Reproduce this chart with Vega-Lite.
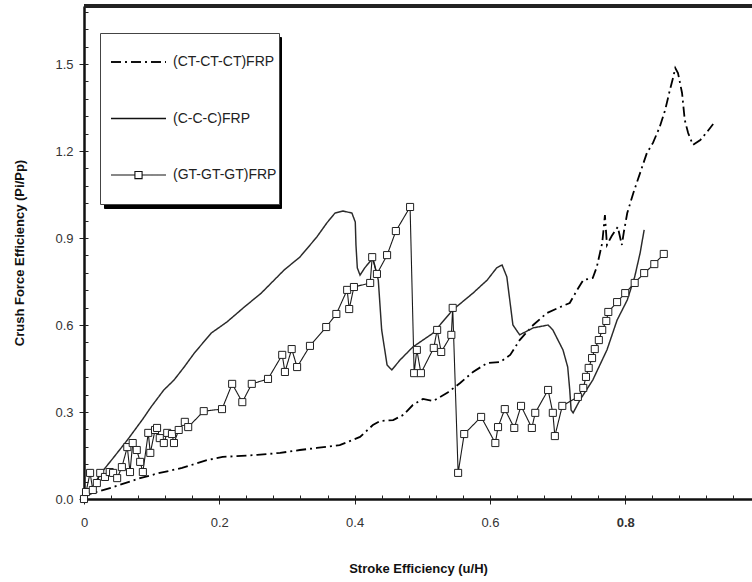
{
  "$schema": "https://vega.github.io/schema/vega-lite/v6.json",
  "autosize": {"type": "none"},
  "width": 668,
  "height": 493,
  "padding": {"left": 84, "top": 6, "right": 0, "bottom": 83},
  "background": "white",
  "config": {
    "view": {"stroke": null},
    "font": "Liberation Sans",
    "axis": {"grid": false, "labelFont": "Liberation Sans", "titleFont": "Liberation Sans", "labelColor": "#333", "titleColor": "#111", "tickColor": "#222", "tickWidth": 1, "domainColor": "#111", "domainWidth": 2.5}
  },
  "data": {
    "values": [
      {"series": "(CT-CT-CT)FRP", "u": 0, "p": 0},
      {"series": "(CT-CT-CT)FRP", "u": 0.004, "p": 0.014},
      {"series": "(CT-CT-CT)FRP", "u": 0.024, "p": 0.028},
      {"series": "(CT-CT-CT)FRP", "u": 0.043, "p": 0.041},
      {"series": "(CT-CT-CT)FRP", "u": 0.083, "p": 0.072},
      {"series": "(CT-CT-CT)FRP", "u": 0.112, "p": 0.09},
      {"series": "(CT-CT-CT)FRP", "u": 0.145, "p": 0.107},
      {"series": "(CT-CT-CT)FRP", "u": 0.182, "p": 0.134},
      {"series": "(CT-CT-CT)FRP", "u": 0.205, "p": 0.145},
      {"series": "(CT-CT-CT)FRP", "u": 0.256, "p": 0.152},
      {"series": "(CT-CT-CT)FRP", "u": 0.29, "p": 0.159},
      {"series": "(CT-CT-CT)FRP", "u": 0.319, "p": 0.169},
      {"series": "(CT-CT-CT)FRP", "u": 0.344, "p": 0.176},
      {"series": "(CT-CT-CT)FRP", "u": 0.378, "p": 0.186},
      {"series": "(CT-CT-CT)FRP", "u": 0.408, "p": 0.214},
      {"series": "(CT-CT-CT)FRP", "u": 0.427, "p": 0.255},
      {"series": "(CT-CT-CT)FRP", "u": 0.438, "p": 0.269},
      {"series": "(CT-CT-CT)FRP", "u": 0.457, "p": 0.272},
      {"series": "(CT-CT-CT)FRP", "u": 0.472, "p": 0.29},
      {"series": "(CT-CT-CT)FRP", "u": 0.486, "p": 0.324},
      {"series": "(CT-CT-CT)FRP", "u": 0.501, "p": 0.345},
      {"series": "(CT-CT-CT)FRP", "u": 0.516, "p": 0.338},
      {"series": "(CT-CT-CT)FRP", "u": 0.537, "p": 0.366},
      {"series": "(CT-CT-CT)FRP", "u": 0.556, "p": 0.4},
      {"series": "(CT-CT-CT)FRP", "u": 0.575, "p": 0.438},
      {"series": "(CT-CT-CT)FRP", "u": 0.596, "p": 0.469},
      {"series": "(CT-CT-CT)FRP", "u": 0.615, "p": 0.472},
      {"series": "(CT-CT-CT)FRP", "u": 0.63, "p": 0.497},
      {"series": "(CT-CT-CT)FRP", "u": 0.644, "p": 0.548},
      {"series": "(CT-CT-CT)FRP", "u": 0.664, "p": 0.6},
      {"series": "(CT-CT-CT)FRP", "u": 0.684, "p": 0.641},
      {"series": "(CT-CT-CT)FRP", "u": 0.704, "p": 0.662},
      {"series": "(CT-CT-CT)FRP", "u": 0.718, "p": 0.676},
      {"series": "(CT-CT-CT)FRP", "u": 0.729, "p": 0.721},
      {"series": "(CT-CT-CT)FRP", "u": 0.738, "p": 0.755},
      {"series": "(CT-CT-CT)FRP", "u": 0.752, "p": 0.762},
      {"series": "(CT-CT-CT)FRP", "u": 0.758, "p": 0.8},
      {"series": "(CT-CT-CT)FRP", "u": 0.766, "p": 0.883},
      {"series": "(CT-CT-CT)FRP", "u": 0.77, "p": 0.979},
      {"series": "(CT-CT-CT)FRP", "u": 0.773, "p": 0.876},
      {"series": "(CT-CT-CT)FRP", "u": 0.78, "p": 0.907},
      {"series": "(CT-CT-CT)FRP", "u": 0.789, "p": 0.938},
      {"series": "(CT-CT-CT)FRP", "u": 0.795, "p": 0.876},
      {"series": "(CT-CT-CT)FRP", "u": 0.798, "p": 0.921},
      {"series": "(CT-CT-CT)FRP", "u": 0.803, "p": 0.986},
      {"series": "(CT-CT-CT)FRP", "u": 0.812, "p": 1.055},
      {"series": "(CT-CT-CT)FRP", "u": 0.825, "p": 1.145},
      {"series": "(CT-CT-CT)FRP", "u": 0.832, "p": 1.193},
      {"series": "(CT-CT-CT)FRP", "u": 0.841, "p": 1.228},
      {"series": "(CT-CT-CT)FRP", "u": 0.851, "p": 1.283},
      {"series": "(CT-CT-CT)FRP", "u": 0.859, "p": 1.341},
      {"series": "(CT-CT-CT)FRP", "u": 0.866, "p": 1.41},
      {"series": "(CT-CT-CT)FRP", "u": 0.871, "p": 1.455},
      {"series": "(CT-CT-CT)FRP", "u": 0.874, "p": 1.486},
      {"series": "(CT-CT-CT)FRP", "u": 0.878, "p": 1.469},
      {"series": "(CT-CT-CT)FRP", "u": 0.884, "p": 1.4},
      {"series": "(CT-CT-CT)FRP", "u": 0.888, "p": 1.307},
      {"series": "(CT-CT-CT)FRP", "u": 0.893, "p": 1.262},
      {"series": "(CT-CT-CT)FRP", "u": 0.9, "p": 1.221},
      {"series": "(CT-CT-CT)FRP", "u": 0.911, "p": 1.238},
      {"series": "(CT-CT-CT)FRP", "u": 0.921, "p": 1.266},
      {"series": "(CT-CT-CT)FRP", "u": 0.93, "p": 1.293},

      {"series": "(C-C-C)FRP", "u": 0, "p": 0},
      {"series": "(C-C-C)FRP", "u": 0.012, "p": 0.038},
      {"series": "(C-C-C)FRP", "u": 0.024, "p": 0.086},
      {"series": "(C-C-C)FRP", "u": 0.043, "p": 0.141},
      {"series": "(C-C-C)FRP", "u": 0.064, "p": 0.203},
      {"series": "(C-C-C)FRP", "u": 0.087, "p": 0.276},
      {"series": "(C-C-C)FRP", "u": 0.099, "p": 0.317},
      {"series": "(C-C-C)FRP", "u": 0.118, "p": 0.376},
      {"series": "(C-C-C)FRP", "u": 0.133, "p": 0.41},
      {"series": "(C-C-C)FRP", "u": 0.148, "p": 0.455},
      {"series": "(C-C-C)FRP", "u": 0.163, "p": 0.503},
      {"series": "(C-C-C)FRP", "u": 0.188, "p": 0.572},
      {"series": "(C-C-C)FRP", "u": 0.211, "p": 0.61},
      {"series": "(C-C-C)FRP", "u": 0.237, "p": 0.662},
      {"series": "(C-C-C)FRP", "u": 0.262, "p": 0.71},
      {"series": "(C-C-C)FRP", "u": 0.296, "p": 0.79},
      {"series": "(C-C-C)FRP", "u": 0.319, "p": 0.834},
      {"series": "(C-C-C)FRP", "u": 0.344, "p": 0.903},
      {"series": "(C-C-C)FRP", "u": 0.359, "p": 0.952},
      {"series": "(C-C-C)FRP", "u": 0.371, "p": 0.986},
      {"series": "(C-C-C)FRP", "u": 0.383, "p": 0.993},
      {"series": "(C-C-C)FRP", "u": 0.396, "p": 0.986},
      {"series": "(C-C-C)FRP", "u": 0.401, "p": 0.955},
      {"series": "(C-C-C)FRP", "u": 0.402, "p": 0.876},
      {"series": "(C-C-C)FRP", "u": 0.404, "p": 0.797},
      {"series": "(C-C-C)FRP", "u": 0.408, "p": 0.772},
      {"series": "(C-C-C)FRP", "u": 0.415, "p": 0.797},
      {"series": "(C-C-C)FRP", "u": 0.427, "p": 0.831},
      {"series": "(C-C-C)FRP", "u": 0.435, "p": 0.755},
      {"series": "(C-C-C)FRP", "u": 0.44, "p": 0.583},
      {"series": "(C-C-C)FRP", "u": 0.448, "p": 0.462},
      {"series": "(C-C-C)FRP", "u": 0.455, "p": 0.445},
      {"series": "(C-C-C)FRP", "u": 0.467, "p": 0.479},
      {"series": "(C-C-C)FRP", "u": 0.486, "p": 0.524},
      {"series": "(C-C-C)FRP", "u": 0.516, "p": 0.572},
      {"series": "(C-C-C)FRP", "u": 0.545, "p": 0.652},
      {"series": "(C-C-C)FRP", "u": 0.575, "p": 0.71},
      {"series": "(C-C-C)FRP", "u": 0.596, "p": 0.755},
      {"series": "(C-C-C)FRP", "u": 0.61, "p": 0.797},
      {"series": "(C-C-C)FRP", "u": 0.618, "p": 0.807},
      {"series": "(C-C-C)FRP", "u": 0.625, "p": 0.766},
      {"series": "(C-C-C)FRP", "u": 0.634, "p": 0.6},
      {"series": "(C-C-C)FRP", "u": 0.644, "p": 0.566},
      {"series": "(C-C-C)FRP", "u": 0.664, "p": 0.59},
      {"series": "(C-C-C)FRP", "u": 0.686, "p": 0.6},
      {"series": "(C-C-C)FRP", "u": 0.693, "p": 0.583},
      {"series": "(C-C-C)FRP", "u": 0.708, "p": 0.514},
      {"series": "(C-C-C)FRP", "u": 0.715, "p": 0.455},
      {"series": "(C-C-C)FRP", "u": 0.718, "p": 0.376},
      {"series": "(C-C-C)FRP", "u": 0.72, "p": 0.307},
      {"series": "(C-C-C)FRP", "u": 0.723, "p": 0.297},
      {"series": "(C-C-C)FRP", "u": 0.733, "p": 0.341},
      {"series": "(C-C-C)FRP", "u": 0.752, "p": 0.41},
      {"series": "(C-C-C)FRP", "u": 0.773, "p": 0.514},
      {"series": "(C-C-C)FRP", "u": 0.788, "p": 0.617},
      {"series": "(C-C-C)FRP", "u": 0.803, "p": 0.686},
      {"series": "(C-C-C)FRP", "u": 0.814, "p": 0.766},
      {"series": "(C-C-C)FRP", "u": 0.822, "p": 0.848},
      {"series": "(C-C-C)FRP", "u": 0.828, "p": 0.928},

      {"series": "(GT-GT-GT)FRP", "u": 0, "p": 0},
      {"series": "(GT-GT-GT)FRP", "u": 0.003, "p": 0.024},
      {"series": "(GT-GT-GT)FRP", "u": 0.009, "p": 0.09},
      {"series": "(GT-GT-GT)FRP", "u": 0.013, "p": 0.031},
      {"series": "(GT-GT-GT)FRP", "u": 0.019, "p": 0.055},
      {"series": "(GT-GT-GT)FRP", "u": 0.024, "p": 0.09},
      {"series": "(GT-GT-GT)FRP", "u": 0.031, "p": 0.076},
      {"series": "(GT-GT-GT)FRP", "u": 0.038, "p": 0.093},
      {"series": "(GT-GT-GT)FRP", "u": 0.043, "p": 0.09},
      {"series": "(GT-GT-GT)FRP", "u": 0.049, "p": 0.072},
      {"series": "(GT-GT-GT)FRP", "u": 0.056, "p": 0.11},
      {"series": "(GT-GT-GT)FRP", "u": 0.064, "p": 0.179},
      {"series": "(GT-GT-GT)FRP", "u": 0.068, "p": 0.093},
      {"series": "(GT-GT-GT)FRP", "u": 0.072, "p": 0.193},
      {"series": "(GT-GT-GT)FRP", "u": 0.078, "p": 0.169},
      {"series": "(GT-GT-GT)FRP", "u": 0.083, "p": 0.128},
      {"series": "(GT-GT-GT)FRP", "u": 0.087, "p": 0.093},
      {"series": "(GT-GT-GT)FRP", "u": 0.095, "p": 0.228},
      {"series": "(GT-GT-GT)FRP", "u": 0.098, "p": 0.159},
      {"series": "(GT-GT-GT)FRP", "u": 0.105, "p": 0.238},
      {"series": "(GT-GT-GT)FRP", "u": 0.108, "p": 0.245},
      {"series": "(GT-GT-GT)FRP", "u": 0.112, "p": 0.21},
      {"series": "(GT-GT-GT)FRP", "u": 0.118, "p": 0.193},
      {"series": "(GT-GT-GT)FRP", "u": 0.123, "p": 0.228},
      {"series": "(GT-GT-GT)FRP", "u": 0.13, "p": 0.224},
      {"series": "(GT-GT-GT)FRP", "u": 0.133, "p": 0.193},
      {"series": "(GT-GT-GT)FRP", "u": 0.14, "p": 0.238},
      {"series": "(GT-GT-GT)FRP", "u": 0.149, "p": 0.266},
      {"series": "(GT-GT-GT)FRP", "u": 0.154, "p": 0.248},
      {"series": "(GT-GT-GT)FRP", "u": 0.177, "p": 0.303},
      {"series": "(GT-GT-GT)FRP", "u": 0.204, "p": 0.31},
      {"series": "(GT-GT-GT)FRP", "u": 0.219, "p": 0.397},
      {"series": "(GT-GT-GT)FRP", "u": 0.234, "p": 0.334},
      {"series": "(GT-GT-GT)FRP", "u": 0.248, "p": 0.397},
      {"series": "(GT-GT-GT)FRP", "u": 0.272, "p": 0.414},
      {"series": "(GT-GT-GT)FRP", "u": 0.293, "p": 0.497},
      {"series": "(GT-GT-GT)FRP", "u": 0.297, "p": 0.438},
      {"series": "(GT-GT-GT)FRP", "u": 0.307, "p": 0.517},
      {"series": "(GT-GT-GT)FRP", "u": 0.315, "p": 0.455},
      {"series": "(GT-GT-GT)FRP", "u": 0.334, "p": 0.528},
      {"series": "(GT-GT-GT)FRP", "u": 0.358, "p": 0.593},
      {"series": "(GT-GT-GT)FRP", "u": 0.373, "p": 0.638},
      {"series": "(GT-GT-GT)FRP", "u": 0.389, "p": 0.721},
      {"series": "(GT-GT-GT)FRP", "u": 0.392, "p": 0.655},
      {"series": "(GT-GT-GT)FRP", "u": 0.399, "p": 0.731},
      {"series": "(GT-GT-GT)FRP", "u": 0.423, "p": 0.745},
      {"series": "(GT-GT-GT)FRP", "u": 0.426, "p": 0.834},
      {"series": "(GT-GT-GT)FRP", "u": 0.433, "p": 0.776},
      {"series": "(GT-GT-GT)FRP", "u": 0.448, "p": 0.841},
      {"series": "(GT-GT-GT)FRP", "u": 0.461, "p": 0.924},
      {"series": "(GT-GT-GT)FRP", "u": 0.482, "p": 1.007},
      {"series": "(GT-GT-GT)FRP", "u": 0.488, "p": 0.434},
      {"series": "(GT-GT-GT)FRP", "u": 0.492, "p": 0.514},
      {"series": "(GT-GT-GT)FRP", "u": 0.498, "p": 0.434},
      {"series": "(GT-GT-GT)FRP", "u": 0.517, "p": 0.521},
      {"series": "(GT-GT-GT)FRP", "u": 0.522, "p": 0.583},
      {"series": "(GT-GT-GT)FRP", "u": 0.528, "p": 0.507},
      {"series": "(GT-GT-GT)FRP", "u": 0.543, "p": 0.566},
      {"series": "(GT-GT-GT)FRP", "u": 0.545, "p": 0.659},
      {"series": "(GT-GT-GT)FRP", "u": 0.553, "p": 0.09},
      {"series": "(GT-GT-GT)FRP", "u": 0.562, "p": 0.224},
      {"series": "(GT-GT-GT)FRP", "u": 0.587, "p": 0.283},
      {"series": "(GT-GT-GT)FRP", "u": 0.608, "p": 0.193},
      {"series": "(GT-GT-GT)FRP", "u": 0.612, "p": 0.248},
      {"series": "(GT-GT-GT)FRP", "u": 0.622, "p": 0.31},
      {"series": "(GT-GT-GT)FRP", "u": 0.636, "p": 0.245},
      {"series": "(GT-GT-GT)FRP", "u": 0.646, "p": 0.321},
      {"series": "(GT-GT-GT)FRP", "u": 0.662, "p": 0.245},
      {"series": "(GT-GT-GT)FRP", "u": 0.667, "p": 0.297},
      {"series": "(GT-GT-GT)FRP", "u": 0.686, "p": 0.376},
      {"series": "(GT-GT-GT)FRP", "u": 0.693, "p": 0.297},
      {"series": "(GT-GT-GT)FRP", "u": 0.696, "p": 0.217},
      {"series": "(GT-GT-GT)FRP", "u": 0.707, "p": 0.321},
      {"series": "(GT-GT-GT)FRP", "u": 0.73, "p": 0.352},
      {"series": "(GT-GT-GT)FRP", "u": 0.738, "p": 0.383},
      {"series": "(GT-GT-GT)FRP", "u": 0.742, "p": 0.421},
      {"series": "(GT-GT-GT)FRP", "u": 0.746, "p": 0.452},
      {"series": "(GT-GT-GT)FRP", "u": 0.751, "p": 0.486},
      {"series": "(GT-GT-GT)FRP", "u": 0.755, "p": 0.517},
      {"series": "(GT-GT-GT)FRP", "u": 0.761, "p": 0.548},
      {"series": "(GT-GT-GT)FRP", "u": 0.766, "p": 0.583},
      {"series": "(GT-GT-GT)FRP", "u": 0.772, "p": 0.614},
      {"series": "(GT-GT-GT)FRP", "u": 0.775, "p": 0.645},
      {"series": "(GT-GT-GT)FRP", "u": 0.788, "p": 0.679},
      {"series": "(GT-GT-GT)FRP", "u": 0.8, "p": 0.71},
      {"series": "(GT-GT-GT)FRP", "u": 0.814, "p": 0.745},
      {"series": "(GT-GT-GT)FRP", "u": 0.828, "p": 0.779},
      {"series": "(GT-GT-GT)FRP", "u": 0.843, "p": 0.81},
      {"series": "(GT-GT-GT)FRP", "u": 0.857, "p": 0.845}
    ]
  },
  "resolve": {"axis": {"x": "independent", "y": "independent"}},
  "layer": [
    {
      "mark": {"type": "line", "interpolate": "linear"},
      "encoding": {
        "x": {
          "field": "u", "type": "quantitative",
          "scale": {"domain": [0, 0.9874], "nice": false, "zero": false},
          "axis": {
            "orient": "bottom",
            "values": [0, 0.2, 0.4, 0.6, 0.8],
            "labelExpr": "datum.value == 0 ? '0' : format(datum.value, '.1f')",
            "labelFontWeight": {"condition": {"test": "datum.value == 0.8", "value": "bold"}, "value": "normal"},
            "labelFontSize": 13,
            "labelPadding": 12,
            "labelFlush": false,
            "tickSize": 5,
            "title": "Stroke Efficiency (u/H)",
            "titleFontSize": 13,
            "titleFontWeight": "bold",
            "titlePadding": 33
          }
        },
        "y": {
          "field": "p", "type": "quantitative",
          "scale": {"domain": [0, 1.7], "nice": false, "zero": false},
          "axis": {
            "orient": "left",
            "values": [0, 0.3, 0.6, 0.9, 1.2, 1.5],
            "format": ".1f",
            "labelFontSize": 13,
            "labelPadding": 6,
            "labelFlush": false,
            "tickSize": 5,
            "title": "Crush Force Efficiency (Pi/Pp)",
            "titleFontSize": 13,
            "titleFontWeight": "bold",
            "titlePadding": 28
          }
        },
        "color": {
          "field": "series", "type": "nominal",
          "scale": {"domain": ["(C-C-C)FRP", "(CT-CT-CT)FRP", "(GT-GT-GT)FRP"], "range": ["#2a2a2a", "#000000", "#1a1a1a"]},
          "legend": {
            "orient": "none", "legendX": 20, "legendY": 31, "title": null,
            "padding": 2, "clipHeight": 54, "rowPadding": 2.5,
            "fillColor": "#000000", "strokeColor": "#000000",
            "symbolSize": 3025, "symbolStrokeColor": "#000000", "symbolStrokeWidth": 1,
            "symbolOffset": 0, "labelOffset": 117, "labelExpr": "''",
            "labelFont": "Liberation Sans", "labelFontSize": 14, "labelColor": "#000000"
          }
        },
        "strokeDash": {
          "field": "series", "type": "nominal",
          "scale": {"domain": ["(CT-CT-CT)FRP", "(C-C-C)FRP", "(GT-GT-GT)FRP"], "range": [[10, 4, 2, 4], [1, 0], [1, 0]]},
          "legend": {
            "orient": "none", "legendX": 16, "legendY": 27, "title": null,
            "padding": 2, "clipHeight": 54, "rowPadding": 2.5,
            "fillColor": "#ffffff", "strokeColor": "#444444",
            "symbolSize": 3025, "symbolStrokeColor": "#111111", "symbolOffset": 8,
            "labelFont": "Liberation Sans", "labelFontSize": 14, "labelColor": "#222222", "labelOffset": 6,
            "encode": {
              "symbols": {
                "update": {
                  "shape": [
                    {"test": "datum.value === '(GT-GT-GT)FRP'", "value": "M-1,0H-0.13M0.13,0H1M-0.13,-0.13H0.13V0.13H-0.13Z"},
                    {"value": "stroke"}
                  ],
                  "fill": {"value": "#ffffff"},
                  "stroke": {"value": "#111111"},
                  "strokeWidth": [
                    {"test": "datum.value === '(CT-CT-CT)FRP'", "value": 2},
                    {"value": 1}
                  ]
                }
              }
            }
          }
        },
        "strokeWidth": {
          "field": "series", "type": "nominal",
          "scale": {"domain": ["(CT-CT-CT)FRP", "(C-C-C)FRP", "(GT-GT-GT)FRP"], "range": [1.8, 1.1, 1]},
          "legend": null
        }
      }
    },
    {
      "transform": [{"filter": "datum.series === '(GT-GT-GT)FRP'"}],
      "mark": {"type": "point", "shape": "square", "filled": true, "fill": "#ffffff", "stroke": "#222222", "strokeWidth": 1, "size": 50, "opacity": 1},
      "encoding": {
        "x": {
          "field": "u", "type": "quantitative",
          "axis": {
            "orient": "bottom",
            "values": [0, 0.04, 0.08, 0.12, 0.16, 0.2, 0.24, 0.28, 0.32, 0.36, 0.4, 0.44, 0.48, 0.52, 0.56, 0.6, 0.64, 0.68, 0.72, 0.76, 0.8, 0.84, 0.88, 0.92, 0.96],
            "labels": false, "domain": false, "tickSize": -4, "title": null
          }
        },
        "y": {
          "field": "p", "type": "quantitative",
          "axis": {
            "orient": "left",
            "values": [0, 0.06, 0.12, 0.18, 0.24, 0.3, 0.36, 0.42, 0.48, 0.54, 0.6, 0.66, 0.72, 0.78, 0.84, 0.9, 0.96, 1.02, 1.08, 1.14, 1.2, 1.26, 1.32, 1.38, 1.44, 1.5, 1.56, 1.62, 1.68],
            "labels": false, "domain": false, "tickSize": -4, "title": null
          }
        }
      }
    },
    {
      "mark": {"type": "rule", "strokeWidth": 3, "color": "#222222"},
      "encoding": {"y": {"datum": 1.7, "type": "quantitative", "axis": null}}
    }
  ]
}
